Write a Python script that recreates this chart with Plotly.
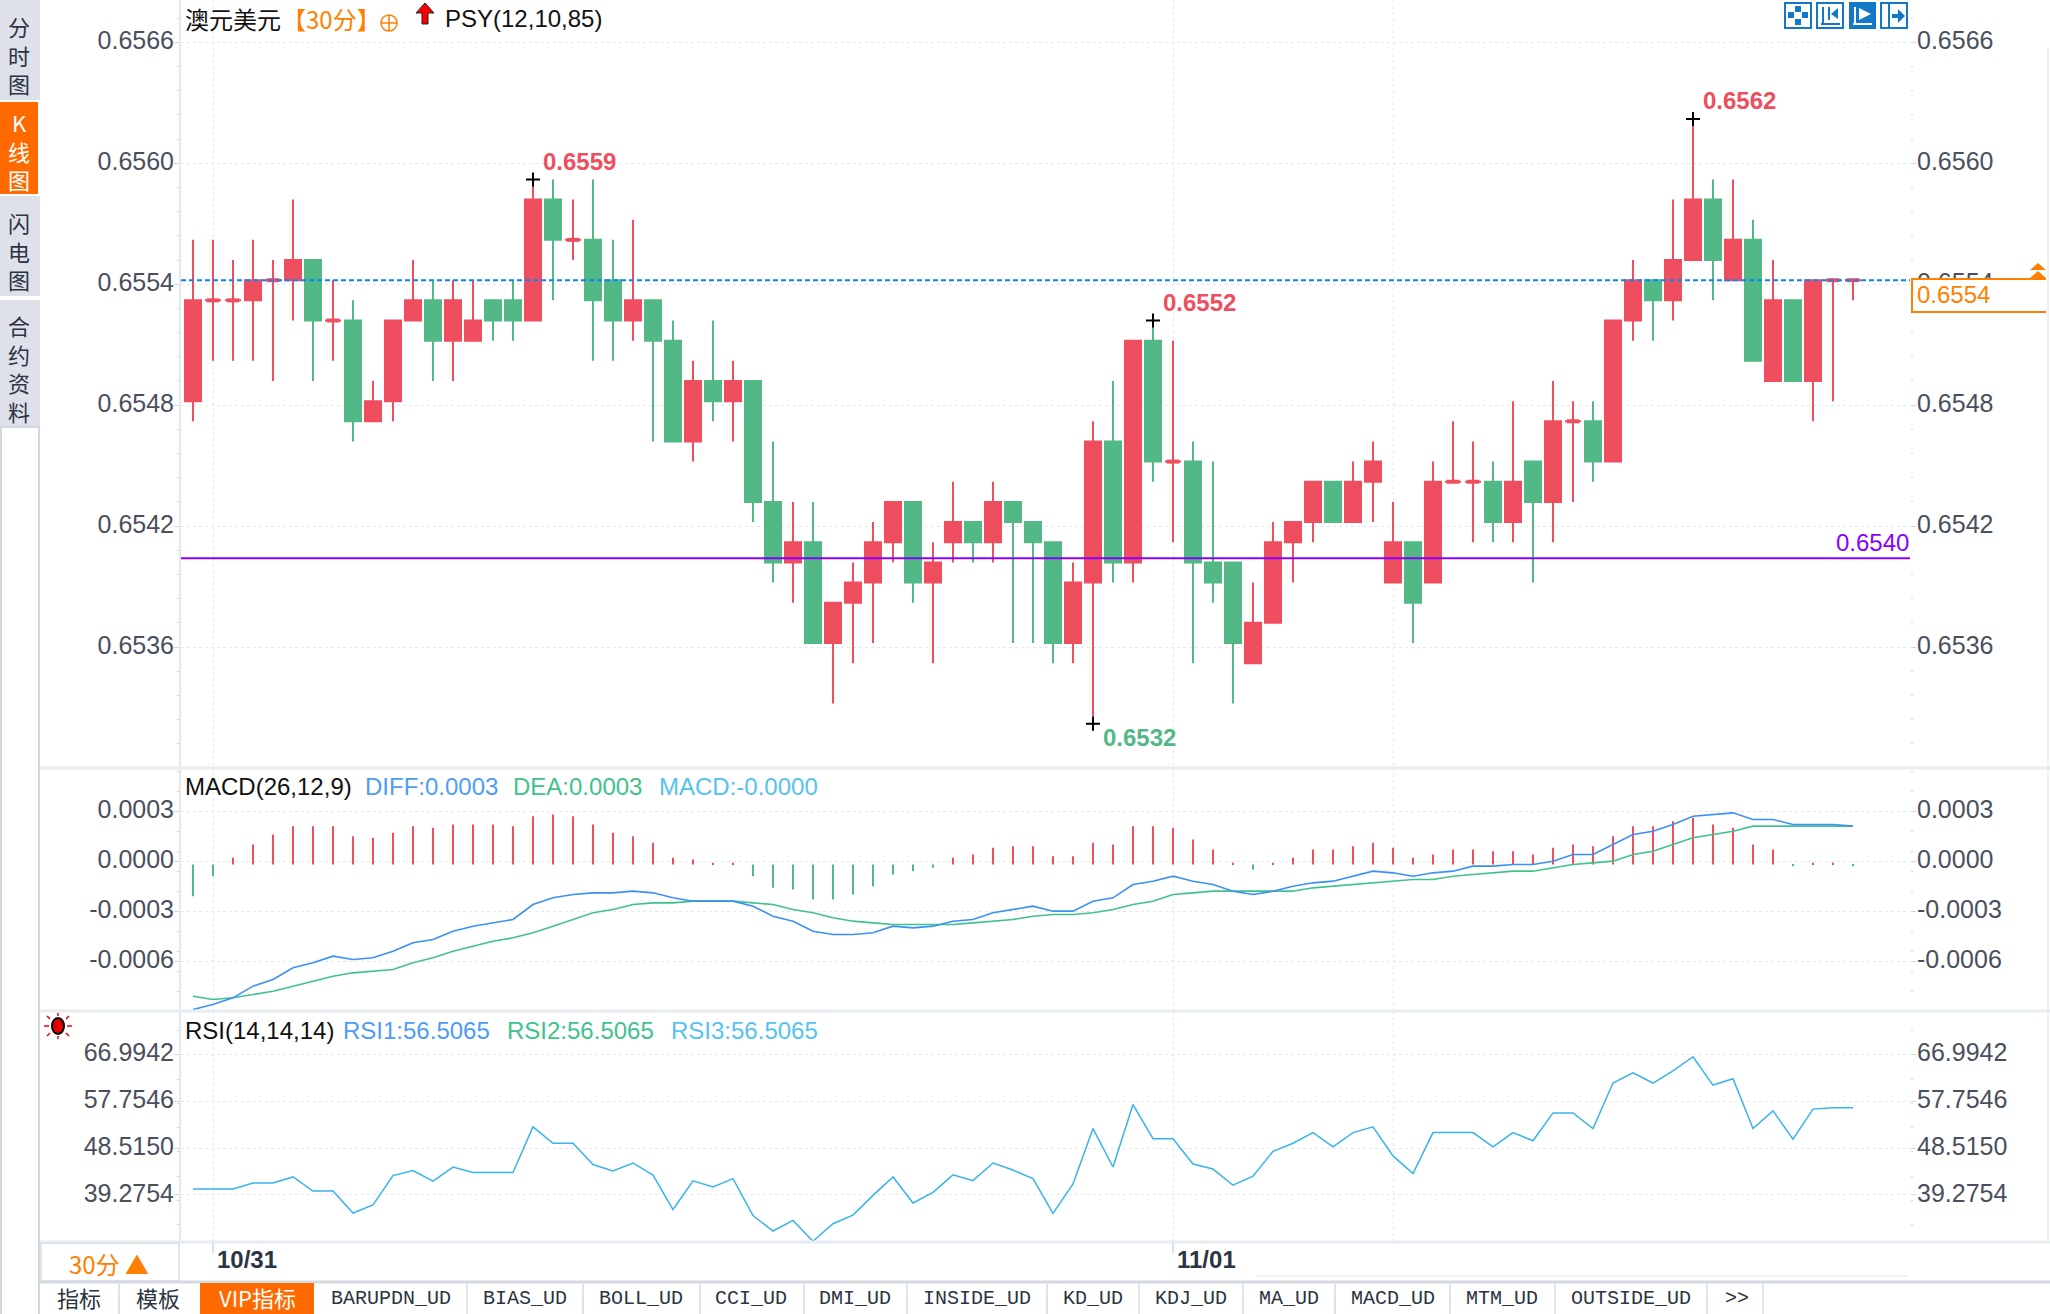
import plotly.graph_objects as go

W = 2050
H = 1314

# ---------------------------------------------------------------------
# Data
# ---------------------------------------------------------------------
opens = [
    .6548, .6553, .6553, .6553, .6554, .6554, .6555, .6552, .6552, .6547,
    .6548, .6552, .6553, .6551, .6551, .6553, .6553, .6552, .6558, .6556,
    .6556, .6554, .6552, .6553, .6551, .6546, .6549, .6548, .6549, .6543,
    .6540, .6541, .6536, .6538, .6539, .6541, .6543, .6539, .6541, .6542,
    .6541, .6543, .6542, .6541, .6536, .6539, .6546, .6540, .6551, .6545,
    .6545, .6540, .6540, .6535, .6537, .6541, .6542, .6544, .6542, .6544,
    .6539, .6541, .6539, .6544, .6544, .6544, .6542, .6545, .6543, .6547,
    .6547, .6545, .6552, .6554, .6553, .6555, .6558, .6554, .6556, .6549,
    .6553, .6549, .6554, .6554]
closes = [
    .6553, .6553, .6553, .6554, .6554, .6555, .6552, .6552, .6547, .6548,
    .6552, .6553, .6551, .6553, .6552, .6552, .6552, .6558, .6556, .6556,
    .6553, .6552, .6553, .6551, .6546, .6549, .6548, .6549, .6543, .6540,
    .6541, .6536, .6538, .6539, .6541, .6543, .6539, .6540, .6542, .6541,
    .6543, .6542, .6541, .6536, .6539, .6546, .6540, .6551, .6545, .6545,
    .6540, .6539, .6536, .6537, .6541, .6542, .6544, .6542, .6544, .6545,
    .6541, .6538, .6544, .6544, .6544, .6542, .6544, .6543, .6547, .6547,
    .6545, .6552, .6554, .6553, .6555, .6558, .6555, .6556, .6550, .6553,
    .6549, .6554, .6554, .6554]
highs = [
    .6556, .6556, .6555, .6556, .6555, .6558, .6555, .6554, .6553, .6549,
    .6552, .6555, .6554, .6554, .6554, .6553, .6554, .6559, .6559, .6558,
    .6559, .6556, .6557, .6553, .6552, .6550, .6552, .6550, .6549, .6546,
    .6543, .6543, .6538, .6540, .6542, .6543, .6543, .6541, .6544, .6542,
    .6544, .6543, .6542, .6541, .6540, .6547, .6549, .6551, .6552, .6551,
    .6546, .6545, .6540, .6539, .6542, .6542, .6544, .6544, .6545, .6546,
    .6543, .6541, .6545, .6547, .6546, .6545, .6548, .6545, .6549, .6548,
    .6548, .6552, .6555, .6554, .6558, .6562, .6559, .6559, .6557, .6555,
    .6553, .6554, .6554, .6554]
lows = [
    .6547, .6550, .6550, .6550, .6549, .6552, .6549, .6550, .6546, .6547,
    .6547, .6552, .6549, .6549, .6551, .6551, .6551, .6552, .6553, .6555,
    .6550, .6550, .6551, .6546, .6546, .6545, .6547, .6546, .6542, .6539,
    .6538, .6536, .6533, .6535, .6536, .6540, .6538, .6535, .6540, .6540,
    .6540, .6536, .6536, .6535, .6535, .6532, .6539, .6539, .6544, .6541,
    .6535, .6538, .6533, .6535, .6537, .6539, .6541, .6542, .6542, .6542,
    .6539, .6536, .6539, .6544, .6541, .6541, .6541, .6539, .6541, .6543,
    .6544, .6545, .6551, .6551, .6552, .6555, .6553, .6554, .6550, .6549,
    .6549, .6547, .6548, .6553]

macd_hist = [
    -.00019, -.00007, .00004, .00012, .00018, .00023, .00023, .00023, .00017, .00016,
    .00019, .00023, .00022, .00024, .00024, .00024, .00023, .00029, .00030, .00029,
    .00024, .00019, .00017, .00013, .00004, .00003, .00001, .00001, -.00007, -.00014,
    -.00015, -.00021, -.00021, -.00018, -.00013, -.00006, -.00004, -.00002, .00004, .00006,
    .00010, .00011, .00011, .00005, .00005, .00013, .00012, .00023, .00023, .00022,
    .00015, .00009, .00001, -.00003, .00001, .00004, .00009, .00009, .00011, .00013,
    .00010, .00004, .00006, .00009, .00009, .00008, .00008, .00006, .00010, .00012,
    .00011, .00017, .00023, .00023, .00026, .00028, .00024, .00022, .00012, .00009,
    -.00001, .00001, .00001, -.00001]
diff_line = [
    -.00087, -.00084, -.00080, -.00073, -.00069, -.00062, -.00059, -.00055, -.00057, -.00056,
    -.00052, -.00047, -.00045, -.00040, -.00037, -.00035, -.00033, -.00024, -.00020, -.00018,
    -.00017, -.00017, -.00016, -.00017, -.00020, -.00022, -.00022, -.00022, -.00025, -.00031,
    -.00034, -.00040, -.00042, -.00042, -.00041, -.00037, -.00038, -.00037, -.00034, -.00033,
    -.00029, -.00027, -.00025, -.00028, -.00028, -.00022, -.00020, -.00012, -.00010, -.00007,
    -.00010, -.00012, -.00016, -.00018, -.00016, -.00013, -.00011, -.00010, -.00007, -.00004,
    -.00005, -.00007, -.00005, -.00004, -.00001, -.00001, 0.0, 0.0, .00002, .00006,
    .00006, .00012, .00018, .00020, .00024, .00029, .00030, .00031, .00027, .00027,
    .00024, .00024, .00024, .00023]
dea_line = [
    -.00079, -.00081, -.00080, -.00078, -.00076, -.00073, -.00070, -.00067, -.00065, -.00064,
    -.00063, -.00059, -.00056, -.00052, -.00049, -.00046, -.00044, -.00041, -.00037, -.00033,
    -.00029, -.00027, -.00024, -.00023, -.00023, -.00022, -.00022, -.00022, -.00023, -.00024,
    -.00027, -.00029, -.00032, -.00034, -.00035, -.00036, -.00036, -.00036, -.00036, -.00035,
    -.00034, -.00033, -.00031, -.00030, -.00030, -.00029, -.00027, -.00024, -.00022, -.00018,
    -.00017, -.00016, -.00016, -.00016, -.00016, -.00016, -.00014, -.00013, -.00012, -.00011,
    -.00010, -.00009, -.00009, -.00007, -.00006, -.00005, -.00004, -.00004, -.00002, 0.0,
    .00001, .00002, .00006, .00008, .00012, .00016, .00018, .00020, .00023, .00023,
    .00023, .00023, .00023, .00023]
rsi_line = [
    40.46, 40.46, 40.46, 41.65, 41.65, 42.84, 40.04, 40.04, 35.7, 37.3,
    43.1, 44.1, 42.0, 44.8, 43.7, 43.7, 43.7, 52.75, 49.5, 49.5,
    45.3, 44.0, 45.6, 43.2, 36.4, 42.07, 40.88, 42.5, 35.2, 32.15,
    34.25, 30.13, 33.6, 35.3, 39.2, 42.84, 37.7, 39.8, 43.25, 42.1,
    45.6, 44.2, 42.5, 35.65, 41.44, 52.4, 44.8, 57.15, 50.4, 50.4,
    45.4, 44.4, 41.2, 43.0, 47.9, 49.5, 51.6, 48.8, 51.6, 52.75,
    47.0, 43.5, 51.6, 51.6, 51.6, 48.8, 51.6, 50.0, 55.5, 55.5,
    52.4, 61.4, 63.4, 61.4, 63.8, 66.6, 61.0, 62.25, 52.4, 55.9,
    50.3, 56.25, 56.5065, 56.5065]

price_ticks = [.65658, .65598, .65538, .65478, .65418, .65358]
price_labels = ["0.6566", "0.6560", "0.6554", "0.6548", "0.6542", "0.6536"]
macd_ticks = [.00032, .00002, -.00028, -.00058]
macd_labels = ["0.0003", "0.0000", "-0.0003", "-0.0006"]
rsi_ticks = [66.9942, 57.7546, 48.5150, 39.2754]
rsi_labels = ["66.9942", "57.7546", "48.5150", "39.2754"]

date_idx = [1, 49]
date_labels = ["10/31", "11/01"]
grid_idx = [1, 49, 60]
last_price = .6554
level_price = .65402
peak_idx = [17, 48, 75]
peak_labels = ["0.6559", "0.6552", "0.6562"]
trough_idx = [45]
trough_labels = ["0.6532"]

side_tabs = ["分<br>时<br>图", "K<br>线<br>图", "闪<br>电<br>图", "合<br>约<br>资<br>料"]
bottom_tabs = ["BARUPDN_UD", "BIAS_UD", "BOLL_UD", "CCI_UD", "DMI_UD", "INSIDE_UD", "KD_UD",
               "KDJ_UD", "MA_UD", "MACD_UD", "MTM_UD", "OUTSIDE_UD", ">>"]

# ---------------------------------------------------------------------
# Colours / helpers
# ---------------------------------------------------------------------
RED = "#ee4e5e"
GREEN = "#52b986"
BLUE = "#3a90f5"
DEA_GREEN = "#3fc28c"
SKY = "#39b3ec"
ORANGE = "#ff7f00"
PURPLE = "#8a00ff"
GRID = "#e6e9ec"
SEP = "#e8edf1"
TICK_TEXT = "#4a4f5c"
ICON = "#1278c8"
FONT = "Liberation Sans, Noto Sans CJK SC"
CJK = "Noto Sans CJK SC, Liberation Sans"


def fx(x):
    return x / W


def fy(y):
    return 1 - y / H


shapes = []
notes = []


def rect(x0, y0, x1, y1, fill="rgba(0,0,0,0)", line=None, width=1):
    shapes.append(dict(type="rect", xref="paper", yref="paper",
                       x0=fx(x0), x1=fx(x1), y0=fy(y1), y1=fy(y0), fillcolor=fill,
                       line=dict(color=line or fill, width=width if line else 0)))


def seg(x0, y0, x1, y1, color, width=1):
    shapes.append(dict(type="line", xref="paper", yref="paper",
                       x0=fx(x0), x1=fx(x1), y0=fy(y0), y1=fy(y1),
                       line=dict(color=color, width=width)))


def poly(points, fill, line=None, width=1):
    path = "M " + " L ".join(f"{fx(x):.5f},{fy(y):.5f}" for x, y in points) + " Z"
    shapes.append(dict(type="path", xref="paper", yref="paper", path=path, fillcolor=fill,
                       line=dict(color=line or fill, width=width if line else 0)))


def text(x, y, s, size=24, color="#111111", anchor="left", family=FONT):
    notes.append(dict(xref="paper", yref="paper", x=fx(x), y=fy(y), text=s, showarrow=False,
                      xanchor=anchor, yanchor="middle", align="center",
                      font=dict(size=size, color=color, family=family), borderpad=0))


# ---------------------------------------------------------------------
# Traces
# ---------------------------------------------------------------------
fig = go.Figure()
idx = list(range(len(closes)))
up = [i for i in idx if closes[i] >= opens[i]]
down = [i for i in idx if closes[i] < opens[i]]
flat = [i for i in idx if closes[i] == opens[i]]

for part, color in ((up, RED), (down, GREEN)):
    style = dict(line=dict(color=color, width=2), fillcolor=color)
    fig.add_trace(go.Candlestick(
        x=part,
        open=[opens[i] for i in part], high=[highs[i] for i in part],
        low=[lows[i] for i in part], close=[closes[i] for i in part],
        increasing=style, decreasing=style, whiskerwidth=0,
        showlegend=False, hoverinfo="skip", xaxis="x", yaxis="y"))

# open == close candles have a visibly thicker bar than the candle outline gives
fig.add_trace(go.Scatter(
    x=flat, y=[closes[i] for i in flat], mode="markers", xaxis="x", yaxis="y",
    showlegend=False, hoverinfo="skip",
    marker=dict(symbol="line-ew", size=9, line=dict(color=RED, width=4))))

fig.add_trace(go.Scatter(
    x=peak_idx + trough_idx,
    y=[highs[i] for i in peak_idx] + [lows[i] for i in trough_idx],
    mode="markers", xaxis="x", yaxis="y", showlegend=False, hoverinfo="skip",
    marker=dict(symbol="cross-thin", size=10, line=dict(color="black", width=2))))

# right hand scale for the price panel
fig.add_trace(go.Scatter(x=idx, y=closes, mode="lines", opacity=0, xaxis="x", yaxis="y2",
                         showlegend=False, hoverinfo="skip"))

fig.add_trace(go.Bar(
    x=idx, y=macd_hist, width=0.09, xaxis="x2", yaxis="y3", showlegend=False, hoverinfo="skip",
    marker=dict(color=[RED if v >= 0 else GREEN for v in macd_hist], line=dict(width=0))))
fig.add_trace(go.Scatter(x=idx, y=dea_line, mode="lines", line=dict(color=DEA_GREEN, width=1.6),
                         xaxis="x2", yaxis="y3", showlegend=False, hoverinfo="skip"))
fig.add_trace(go.Scatter(x=idx, y=diff_line, mode="lines", line=dict(color=BLUE, width=1.6),
                         xaxis="x2", yaxis="y3", showlegend=False, hoverinfo="skip"))
fig.add_trace(go.Scatter(x=idx, y=dea_line, mode="lines", opacity=0, xaxis="x2", yaxis="y4",
                         showlegend=False, hoverinfo="skip"))

fig.add_trace(go.Scatter(x=idx, y=rsi_line, mode="lines", line=dict(color=SKY, width=1.5),
                         xaxis="x3", yaxis="y5", showlegend=False, hoverinfo="skip"))
fig.add_trace(go.Scatter(x=idx, y=rsi_line, mode="lines", opacity=0, xaxis="x3", yaxis="y6",
                         showlegend=False, hoverinfo="skip"))

# ---------------------------------------------------------------------
# Axes
# ---------------------------------------------------------------------
X_RANGE = [-0.6, 85.85]
X_DOMAIN = [fx(181), fx(1910)]
DOM_MAIN = [fy(768), 1]
DOM_MACD = [fy(1011), fy(768)]
DOM_RSI = [fy(1242), fy(1011)]


def x_axis(anchor, matches=None):
    ax = dict(domain=X_DOMAIN, range=X_RANGE, anchor=anchor, showgrid=True, gridcolor=GRID,
              griddash="dot", gridwidth=1, tickmode="array", tickvals=grid_idx, ticks="",
              showticklabels=False, zeroline=False, showline=False, rangeslider=dict(visible=False))
    if matches:
        ax["matches"] = matches
    return ax


def y_axis(domain, rng, tickvals, ticktext, side, minor_step, anchor, overlaying=None):
    ax = dict(domain=domain, range=rng, tickmode="array", tickvals=tickvals, ticktext=ticktext,
              side=side, anchor=anchor, ticks="outside", ticklen=5, tickcolor="#cfd6dc", tickwidth=1,
              tickfont=dict(family=FONT, size=25, color=TICK_TEXT), zeroline=False,
              ticklabelstandoff=-5 if side == "left" else -4, ticklabelshift=-2,
              minor=dict(tick0=tickvals[0], dtick=minor_step, ticks="outside", ticklen=2,
                         tickcolor="#cfd6dc", showgrid=False))
    if side == "left":
        ax.update(showgrid=True, gridcolor=GRID, griddash="dot", gridwidth=1,
                  showline=True, linecolor="#e4e8ec", linewidth=2)
    else:
        ax.update(showgrid=False, showline=False, overlaying=overlaying)
    return ax


PRICE_RANGE = [.65298, .65679]
MACD_RANGE = [-.000879, .000579]
RSI_RANGE = [29.98, 75.64]

fig.update_layout(
    width=W, height=H, margin=dict(l=0, r=0, t=0, b=0, pad=0), autosize=False,
    paper_bgcolor="white", plot_bgcolor="white", showlegend=False,
    barmode="overlay", boxmode="overlay", boxgap=0.2, boxgroupgap=0,
    font=dict(family=FONT),
    xaxis=x_axis("y"), xaxis2=x_axis("y3", "x"), xaxis3=x_axis("y5", "x"),
    yaxis=y_axis(DOM_MAIN, PRICE_RANGE, price_ticks, price_labels, "left", .00012, "x"),
    yaxis2=y_axis(DOM_MAIN, PRICE_RANGE, price_ticks, price_labels, "right", .00012, "x", "y"),
    yaxis3=y_axis(DOM_MACD, MACD_RANGE, macd_ticks, macd_labels, "left", .00012, "x2"),
    yaxis4=y_axis(DOM_MACD, MACD_RANGE, macd_ticks, macd_labels, "right", .00012, "x2", "y3"),
    yaxis5=y_axis(DOM_RSI, RSI_RANGE, rsi_ticks, rsi_labels, "left", 4.8, "x3"),
    yaxis6=y_axis(DOM_RSI, RSI_RANGE, rsi_ticks, rsi_labels, "right", 4.8, "x3", "y5"),
)

# ---------------------------------------------------------------------
# Reference lines on the price panel
# ---------------------------------------------------------------------
shapes.append(dict(type="line", xref="x domain", yref="y", x0=0, x1=1, y0=last_price, y1=last_price,
                   line=dict(color="#0a84ff", width=2, dash="5px,3px")))
shapes.append(dict(type="line", xref="x domain", yref="y", x0=0, x1=1, y0=level_price, y1=level_price,
                   line=dict(color=PURPLE, width=2)))

for i, label in zip(peak_idx, peak_labels):
    notes.append(dict(xref="x", yref="y", x=i, y=highs[i], text=label, showarrow=False, xanchor="left",
                      yanchor="middle", xshift=8, yshift=18,
                      font=dict(size=24, color=RED, family=FONT, weight="bold")))
for i, label in zip(trough_idx, trough_labels):
    notes.append(dict(xref="x", yref="y", x=i, y=lows[i], text=label, showarrow=False, xanchor="left",
                      yanchor="middle", xshift=8, yshift=-14,
                      font=dict(size=24, color=GREEN, family=FONT, weight="bold")))
text(1910, 543, "0.6540", color=PURPLE, anchor="right")

# last price box on the right scale, open on its right side
rect(1912, 279, 2046, 312, fill="white")
seg(1912, 279, 2046, 279, ORANGE, 2)
seg(1912, 312, 2046, 312, ORANGE, 2)
seg(1912, 278, 1912, 313, ORANGE, 2)
text(1916, 295, "0.6554", color=ORANGE)
poly([(2030, 270), (2038, 263), (2046, 270)], ORANGE)
poly([(2030, 278), (2038, 271), (2046, 278)], ORANGE)
seg(2048, 46, 2048, 1240, "#eef1f4", 2)

# ---------------------------------------------------------------------
# Headers
# ---------------------------------------------------------------------
text(184, 19, "澳元美元", family=CJK)
text(281, 19, "【30分】", color=ORANGE, family=CJK)
shapes.append(dict(type="circle", xref="paper", yref="paper", x0=fx(381), x1=fx(397), y0=fy(31), y1=fy(15),
                   line=dict(color=ORANGE, width=1.5)))
seg(381, 23, 397, 23, ORANGE, 1.5)
seg(389, 15, 389, 31, ORANGE, 1.5)
poly([(425, 3), (434, 13), (428, 13), (428, 24), (422, 24), (422, 13), (416, 13)], "#ff0000", "#222222", 1)
text(444, 19, "PSY(12,10,85)")

text(184, 786, "MACD(26,12,9)")
text(364, 786, "DIFF:0.0003", color="#4d9df8")
text(512, 786, "DEA:0.0003", color=DEA_GREEN)
text(658, 786, "MACD:-0.0000", color="#55c2f0")

text(184, 1030, "RSI(14,14,14)")
text(342, 1030, "RSI1:56.5065", color="#4d9df8")
text(506, 1030, "RSI2:56.5065", color=DEA_GREEN)
text(670, 1030, "RSI3:56.5065", color="#55c2f0")

# toolbar icons, top right
rect(1785, 3, 1811, 28, line=ICON, width=2)
for cx, cy in ((1798, 9), (1798, 22), (1791, 15), (1805, 15)):
    rect(cx - 3, cy - 3, cx + 3, cy + 3, fill=ICON)
rect(1817, 3, 1843, 28, line=ICON, width=2)
seg(1823, 7, 1823, 24, ICON, 2)
seg(1821, 24, 1840, 24, ICON, 2)
seg(1829, 7, 1829, 20, ICON, 2)
poly([(1838, 8), (1838, 19), (1831, 14)], ICON)
rect(1849, 2, 1876, 29, fill=ICON)
seg(1855, 7, 1855, 24, "white", 2)
seg(1853, 24, 1872, 24, "white", 2)
poly([(1859, 8), (1859, 20), (1871, 14)], "white")
rect(1881, 3, 1907, 28, line=ICON, width=2)
seg(1889, 3, 1889, 28, ICON, 2)
seg(1892, 16, 1899, 16, ICON, 4)
poly([(1898, 9), (1898, 23), (1905, 16)], ICON)

# ---------------------------------------------------------------------
# Panel separators, left tabs, bottom bar
# ---------------------------------------------------------------------
for y in (768, 1011, 1242):
    seg(40, y, W, y, SEP, 3)

rect(0, 0, 40, 100, fill="#dfe1ea")
rect(0, 102, 38, 194, fill="#ff6a00")
rect(0, 196, 40, 296, fill="#dfe1ea")
rect(0, 300, 40, 426, fill="#dfe1ea")
seg(39, 426, 39, 1314, "#d0d8de", 2)
seg(1, 426, 1, 1314, "#d0d8de", 2)
seg(0, 427, 40, 427, "#d0d8de", 2)
for label, y, color in zip(side_tabs, (55, 151, 250, 368), ("#2c3442", "white", "#2c3442", "#2c3442")):
    text(19, y, label, size=22, color=color, anchor="center", family=CJK)

# little sun marker beside the RSI panel
sun = (58, 1026)
shapes.append(dict(type="circle", xref="paper", yref="paper", x0=fx(52), x1=fx(64), y0=fy(1034), y1=fy(1018),
                   fillcolor="#e80000", line=dict(color="black", width=2)))
for (dx0, dy0, dx1, dy1) in ((-14, 0, -9, 0), (9, 0, 14, 0), (0, -13, 0, -10), (0, 10, 0, 13),
                             (-11, -10, -8, -7), (11, -10, 8, -7), (-11, 10, -8, 7), (11, 10, 8, 7)):
    seg(sun[0] + dx0, sun[1] + dy0, sun[0] + dx1, sun[1] + dy1, "#e80000", 1.5)

# date labels sit to the right of their tick
for i, label in zip(date_idx, date_labels):
    shapes.append(dict(type="line", xref="x3", yref="paper", x0=i, x1=i, y0=fy(1243), y1=fy(1253),
                       line=dict(color="#b8c0c8", width=1)))
    notes.append(dict(xref="x3", yref="paper", x=i, y=fy(1259), text=label, showarrow=False,
                      xanchor="left", yanchor="middle", xshift=2,
                      font=dict(size=24, color="#2c3442", family=FONT, weight="bold")))

rect(41, 1243, 179, 1281, fill="white", line="#dfe4e8", width=2)
text(68, 1263, "30分 ▲", color=ORANGE, family=CJK)

seg(40, 1282, W, 1282, "#d4dae0", 3)
seg(1256, 1276, 1908, 1276, "#eef2f5", 2)
rect(200, 1283, 314, 1314, fill="#ff6a00")
text(79, 1297, "指标", size=22, color="#2c3442", anchor="center", family=CJK)
text(158, 1297, "模板", size=22, color="#2c3442", anchor="center", family=CJK)
text(257, 1297, "VIP指标", size=22, color="white", anchor="center", family=CJK)

for x in (119, 467, 583, 700, 804, 907, 1047, 1139, 1243, 1335, 1450, 1555, 1707, 1763):
    seg(x, 1284, x, 1314, "#d4dae0", 1.5)
for label, x in zip(bottom_tabs, (391, 525, 641, 751, 855, 977, 1093, 1191, 1289, 1393, 1502, 1631, 1737)):
    text(x, 1298, label, size=20, color="#2c3442", anchor="center", family="Liberation Mono")

fig.update_layout(shapes=shapes, annotations=notes)

fig.write_html("out.html", config={"displayModeBar": False},
               post_script="document.body.style.margin='0';")
